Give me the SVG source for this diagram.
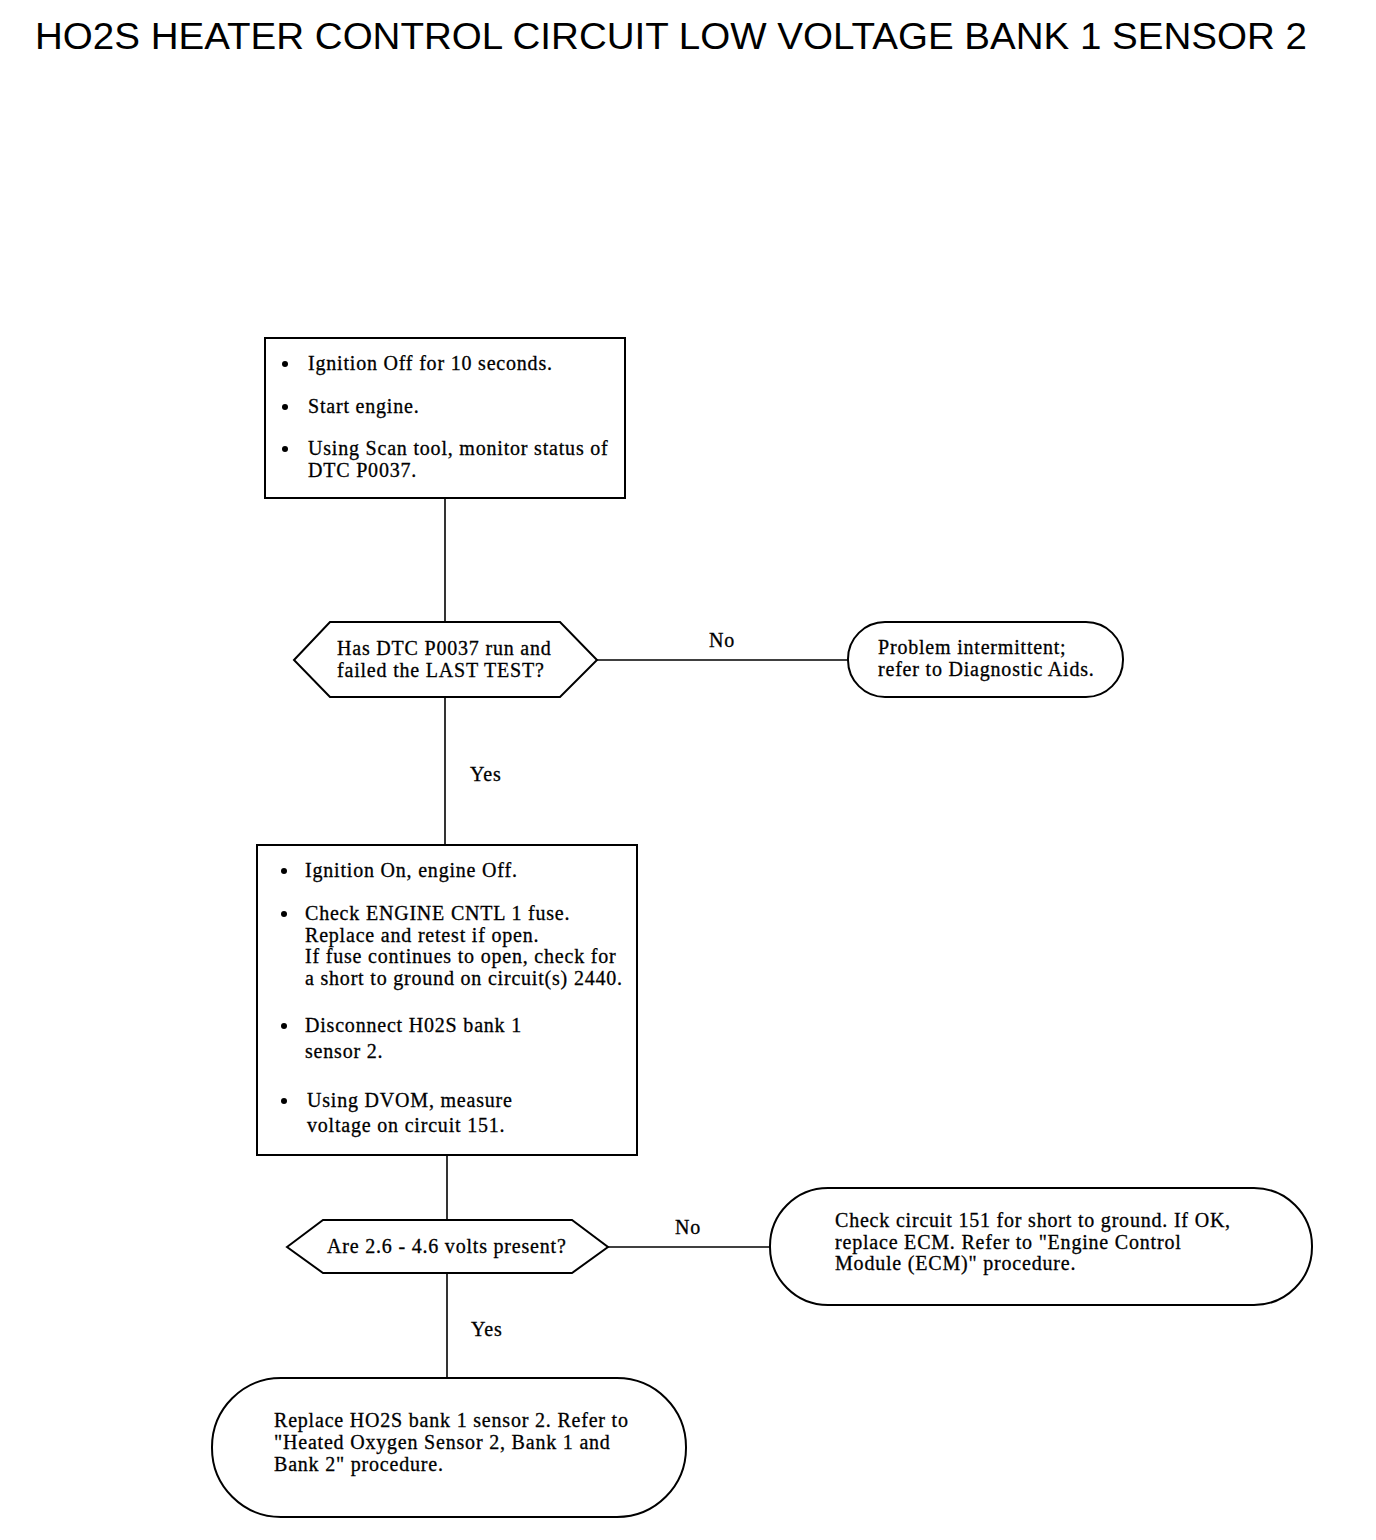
<svg xmlns="http://www.w3.org/2000/svg" width="1376" height="1540" viewBox="0 0 1376 1540">
<style>
.s{fill:#fff;stroke:#000;stroke-width:2}
.c{fill:none;stroke:#000;stroke-width:1.6}
.t{font-family:"Liberation Serif","Times New Roman",serif;font-size:20px;letter-spacing:0.8px;fill:#000;stroke:#000;stroke-width:0.3}
.h{font-family:"Liberation Sans",Arial,sans-serif;font-size:36px;fill:#000}
</style>
<rect width="1376" height="1540" fill="#fff"/>
<text class="h" x="35" y="49" textLength="1272" lengthAdjust="spacingAndGlyphs">HO2S HEATER CONTROL CIRCUIT LOW VOLTAGE BANK 1 SENSOR 2</text>
<g id="connectors">
<line class="c" x1="445" y1="498" x2="445" y2="622"/>
<line class="c" x1="597" y1="660" x2="848" y2="660"/>
<line class="c" x1="445" y1="697" x2="445" y2="845"/>
<line class="c" x1="447" y1="1155" x2="447" y2="1220"/>
<line class="c" x1="608" y1="1247" x2="770" y2="1247"/>
<line class="c" x1="447" y1="1273" x2="447" y2="1378"/>
<text class="t" x="709" y="647">No</text>
<text class="t" x="470" y="781">Yes</text>
<text class="t" x="675" y="1234">No</text>
<text class="t" x="471" y="1336">Yes</text>
</g>
<g id="step1">
<rect class="s" x="265" y="338" width="360" height="160"/>
<circle cx="285" cy="364" r="3"/>
<circle cx="285" cy="407" r="3"/>
<circle cx="285" cy="449" r="3"/>
<text class="t" x="308" y="370">Ignition Off for 10 seconds.</text>
<text class="t" x="308" y="413">Start engine.</text>
<text class="t" x="308" y="455">Using Scan tool, monitor status of</text>
<text class="t" x="308" y="477">DTC P0037.</text>
</g>
<g id="decision1">
<polygon class="s" points="294,660 330,622 560,622 597,660 560,697 330,697"/>
<text class="t" x="337" y="655">Has DTC P0037 run and</text>
<text class="t" x="337" y="677">failed the LAST TEST?</text>
</g>
<g id="end1">
<rect class="s" x="848" y="622" width="275" height="75" rx="37" ry="37"/>
<text class="t" x="878" y="654">Problem intermittent;</text>
<text class="t" x="878" y="676">refer to Diagnostic Aids.</text>
</g>
<g id="step2">
<rect class="s" x="257" y="845" width="380" height="310"/>
<circle cx="284" cy="871" r="3"/>
<circle cx="284" cy="914" r="3"/>
<circle cx="284" cy="1026" r="3"/>
<circle cx="284" cy="1101" r="3"/>
<text class="t" x="305" y="877">Ignition On, engine Off.</text>
<text class="t" x="305" y="920">Check ENGINE CNTL 1 fuse.</text>
<text class="t" x="305" y="942">Replace and retest if open.</text>
<text class="t" x="305" y="963">If fuse continues to open, check for</text>
<text class="t" x="305" y="985">a short to ground on circuit(s) 2440.</text>
<text class="t" x="305" y="1032">Disconnect H02S bank 1</text>
<text class="t" x="305" y="1058">sensor 2.</text>
<text class="t" x="307" y="1107">Using DVOM, measure</text>
<text class="t" x="307" y="1132">voltage on circuit 151.</text>
</g>
<g id="decision2">
<polygon class="s" points="287,1247 323,1220 572,1220 608,1247 572,1273 323,1273"/>
<text class="t" x="327" y="1253">Are 2.6 - 4.6 volts present?</text>
</g>
<g id="end2">
<rect class="s" x="770" y="1188" width="542" height="117" rx="58" ry="58"/>
<text class="t" x="835" y="1227">Check circuit 151 for short to ground. If OK,</text>
<text class="t" x="835" y="1249">replace ECM. Refer to "Engine Control</text>
<text class="t" x="835" y="1270">Module (ECM)" procedure.</text>
</g>
<g id="end3">
<rect class="s" x="212" y="1378" width="474" height="139" rx="69" ry="69"/>
<text class="t" x="274" y="1427">Replace HO2S bank 1 sensor 2. Refer to</text>
<text class="t" x="274" y="1449">"Heated Oxygen Sensor 2, Bank 1 and</text>
<text class="t" x="274" y="1471">Bank 2" procedure.</text>
</g>
</svg>
